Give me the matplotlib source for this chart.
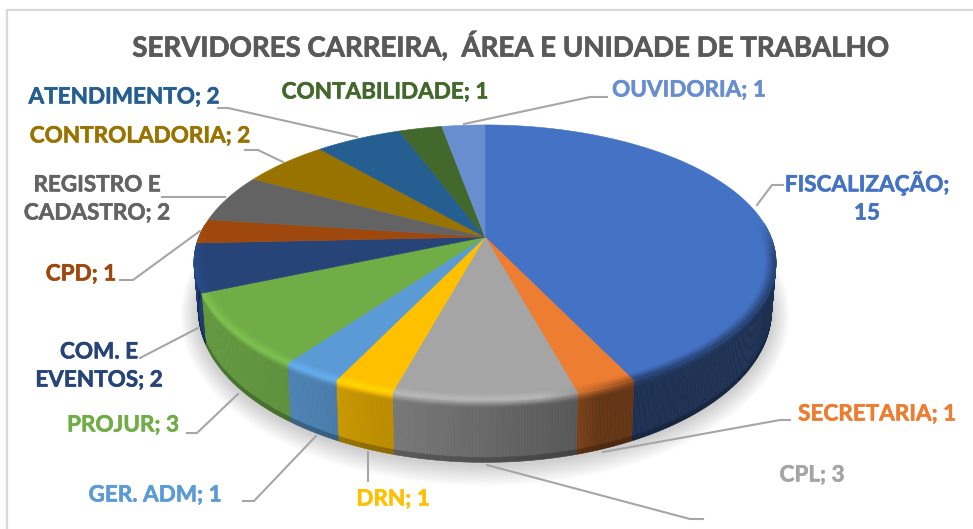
import numpy as np
import matplotlib
matplotlib.use("Agg")
import matplotlib.pyplot as plt
import matplotlib.patheffects as pe
from matplotlib.collections import PolyCollection

categories = ["FISCALIZAÇÃO", "SECRETARIA", "CPL", "DRN", "GER. ADM", "PROJUR", "COM. E EVENTOS",
              "CPD", "REGISTRO E CADASTRO", "CONTROLADORIA", "ATENDIMENTO", "CONTABILIDADE", "OUVIDORIA"]
values = [15, 1, 3, 1, 1, 3, 2, 1, 2, 2, 2, 1, 1]
colors = ["#4472C4", "#ED7D31", "#A5A5A5", "#FFC000", "#5B9BD5", "#70AD47", "#264478",
          "#9E480E", "#636363", "#997300", "#255E91", "#43682B", "#698ED0"]
title = "SERVIDORES CARREIRA,  ÁREA E UNIDADE DE TRABALHO"
label_texts = ["FISCALIZAÇÃO;\n15", "SECRETARIA; 1", "CPL; 3", "DRN; 1", "GER. ADM; 1", "PROJUR; 3",
               "COM. E\nEVENTOS; 2", "CPD; 1", "REGISTRO E\nCADASTRO; 2", "CONTROLADORIA; 2",
               "ATENDIMENTO; 2", "CONTABILIDADE; 1", "OUVIDORIA; 1"]
label_xy = [(867, 197), (877, 414), (812, 475), (393, 499), (155, 495), (123, 425), (99, 366),
            (81, 274), (97, 199), (140, 136), (124, 97), (385, 92), (689, 90)]
leaders = [[(757, 205), (772, 185), (783, 185)], [(603, 452), (780, 420), (790, 420)],
           [(487, 465), (690, 519), (703, 519)], [(368, 452), (368, 481)],
           [(316, 436), (254, 501), (243, 501)], [(238, 394), (197, 433), (187, 433)],
           [(198, 328), (140, 358)], [(200, 231), (133, 280), (120, 280)],
           [(225, 197), (162, 197)], [(283, 162), (258, 150), (245, 150)],
           [(357, 137), (228, 108), (218, 108)], [(464, 124), (590, 97), (607, 97)]]

plt.rcParams["font.family"] = ["Lato", "DejaVu Sans"]
fig = plt.figure(figsize=(9.73, 5.29), dpi=100)
ax = fig.add_axes([0, 0, 1, 1])
ax.set_xlim(0, 973)
ax.set_ylim(529, 0)
ax.axis("off")

CX, CY, F, G, K = 485.0, 237.0, 286.0, 132.8, 0.185
DY, S, GB = 45.0, 0.985, 147.0


def top(a, rho=1.0):
    X, Y = rho * np.sin(a), -rho * np.cos(a)
    d = 1 - K * Y
    return CX + F * X / d, CY + G * Y / d


def bottom(a, extra=0.0):
    X, Y = np.sin(a), -np.cos(a)
    d = 1 - K * Y
    return CX + (S * F + extra) * X / d, CY + DY + (GB + extra) * Y / d


def shade(x):
    return np.interp(x, [200, 315, 365, 400, 575, 600], [0.88, 0.82, 0.75, 0.72, 0.53, 0.42])


def highlight(x):
    return np.interp(x, [300, 540, 590, 640], [1.13, 1.13, 0.85, 0.55])


def mix(c, f):
    rgb = np.array(matplotlib.colors.to_rgb(c))
    return tuple(np.clip(rgb * f, 0, 1))


def quad(au, av, bu, bv):
    return [au, av, bv, bu]


def lerp(a, b, p):
    return (a[0] + p * (b[0] - a[0]), a[1] + p * (b[1] - a[1]))


# frame
ax.plot([7, 7, 973], [529, 10, 10], color="#D9D9D9", lw=1.6, zorder=0)

# soft shadow
full = np.linspace(0, 2 * np.pi, 361)
for i in range(16, 0, -1):
    bx, by = bottom(full, extra=i * 1.1)
    ax.fill(bx, by + 2, color="black", alpha=0.012, lw=0, zorder=1)

cum = np.cumsum([0] + values) / sum(values) * 2 * np.pi
wall_polys, wall_cols, rim_polys, rim_cols = [], [], [], []
# radial rim positions on the top face, then fractions down the side wall
rim_r = np.linspace(0.965, 1.0, 6)
wall_p = np.r_[np.linspace(0, 0.12, 5), 0.92, 1.0]

for j, col in enumerate(colors):
    a0, a1 = cum[j], cum[j + 1]
    n = max(2, int((a1 - a0) / np.radians(0.5)))
    grid = np.linspace(a0, a1, n + 1)
    tx, ty = top(grid)
    ax.fill(np.r_[CX, tx], np.r_[CY, ty], facecolor=col, edgecolor=col, lw=0.4, zorder=4)
    for u, v in zip(grid[:-1], grid[1:]):
        m = (u + v) / 2
        Ym = -np.cos(m)
        if Ym <= -0.1:
            continue
        xm, _ = top(m)
        f = shade(xm)
        w = np.clip((Ym + 0.1) / 0.25, 0, 1)
        h = 1 + (highlight(xm) - 1) * w
        # rim on the top face: base colour towards the highlight
        for k in range(len(rim_r) - 1):
            r0, r1 = rim_r[k], rim_r[k + 1]
            ff = 1 + (h - 1) * ((k + 0.5) / (len(rim_r) - 1))
            rim_polys.append(quad(top(u, r0), top(v, r0), top(u, r1), top(v, r1)))
            rim_cols.append(mix(col, ff))
        # wall: highlight down to the wall shade, then a dark foot
        tu, tv, bu, bv = top(u), top(v), bottom(u), bottom(v)
        for k in range(len(wall_p) - 1):
            p0, p1 = wall_p[k], wall_p[k + 1]
            if k < 4:
                ff = h + (f - h) * ((k + 0.5) / 4)
            elif k == 4:
                ff = f
            else:
                ff = f * 0.75
            wall_polys.append(quad(lerp(tu, bu, p0), lerp(tv, bv, p0), lerp(tu, bu, p1), lerp(tv, bv, p1)))
            wall_cols.append(mix(col, ff))

# walls lie under the top face, the rim shading on top of it
ax.add_collection(PolyCollection(wall_polys, facecolors=wall_cols, edgecolors=wall_cols, linewidths=0.4, zorder=3))
ax.add_collection(PolyCollection(rim_polys, facecolors=rim_cols, edgecolors=rim_cols, linewidths=0.4, zorder=5))

# leader lines
for pts in leaders:
    xs, ys = zip(*pts)
    ax.plot(xs, ys, color="#A6A6A6", lw=1.5, zorder=6, solid_joinstyle="miter")

# texts
ax.text(511, 46, title, ha="center", va="center", fontsize=19.9, fontweight="bold", color="#595959", zorder=7,
        path_effects=[pe.withStroke(linewidth=0.5, foreground="#595959")])
for t, (x, y), c in zip(label_texts, label_xy, colors):
    ax.text(x, y, t, ha="center", va="center", fontsize=16.2, fontweight="bold", color=c,
            linespacing=1.42, zorder=7, path_effects=[pe.withStroke(linewidth=0.4, foreground=c)])

fig.savefig("out.png", dpi=100)
